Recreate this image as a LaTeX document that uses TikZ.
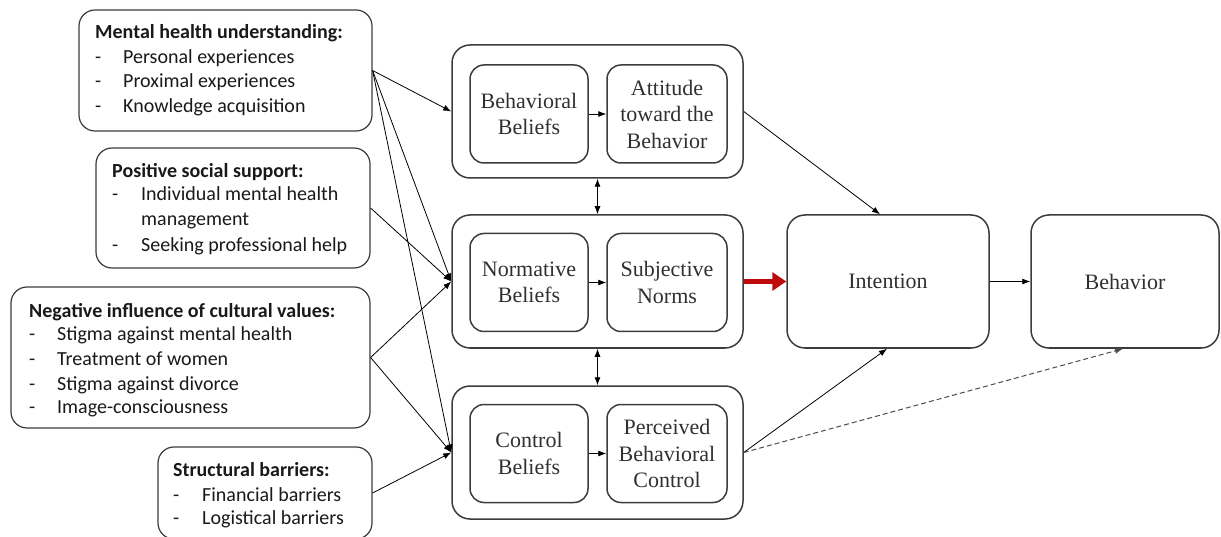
\documentclass[tikz,border=0pt]{standalone}
\usepackage{fontspec}
\setmainfont{Liberation Serif}
\newfontfamily\lf{Carlito}
\usetikzlibrary{arrows.meta}
\definecolor{bord}{HTML}{3C3C3C}
\definecolor{redarr}{HTML}{BE0A0A}
\definecolor{txtg}{HTML}{303030}
\begin{document}
\begin{tikzpicture}[x=1pt,y=-1pt,
  lbox/.style={draw=bord, line width=1.2pt, rounded corners=16pt, inner sep=0pt},
  gbox/.style={draw=bord, line width=1.5pt, rounded corners=18pt, inner sep=0pt, minimum width=291pt, minimum height=133pt},
  ibox/.style={draw=bord, line width=1.5pt, rounded corners=14pt, inner sep=0pt, minimum height=98pt, align=center, text=txtg,
     font=\fontsize{22}{26.5}\selectfont},
  bigbox/.style={draw=bord, line width=1.5pt, rounded corners=18pt, inner sep=0pt, minimum height=133pt, text=txtg,
     font=\fontsize{22}{26.5}\selectfont},
  ltxt/.style={anchor=base west, inner sep=0pt, font=\lf\fontsize{20}{24.5}\selectfont, text=black!90},
  conn/.style={draw=black, line width=0.8pt, -{Latex[length=8pt,width=6pt]}},
  dconn/.style={draw=black!70, line width=1pt, dashed, dash pattern=on 5pt off 3pt, -{Latex[length=8pt,width=6pt]}},
  dbl/.style={draw=black, line width=0.9pt, {Latex[length=8pt,width=6pt]}-{Latex[length=8pt,width=6pt]}},
  redconn/.style={draw=redarr, line width=5pt, -{Triangle[length=14pt,width=18pt]}}]
\useasboundingbox (0,0) rectangle (1221,537);

% left boxes
\node[lbox, minimum width=293pt, minimum height=121pt] (m1) at (225.5,70.5) {};
\node[lbox, minimum width=274pt, minimum height=120pt] (m2) at (233,208) {};
\node[lbox, minimum width=359pt, minimum height=141pt] (m3) at (190.5,357.5) {};
\node[lbox, minimum width=214pt, minimum height=92pt] (m4) at (265,493) {};

% box 1 text
\node[ltxt] (m1h) at (95,39) {\textbf{Mental health understanding:}};
\node[ltxt] (m1d1) at (95,64) {-};
\node[ltxt] (m1a) at (123,64) {Personal experiences};
\node[ltxt] (m1d2) at (95,88) {-};
\node[ltxt] (m1b) at (123,88) {Proximal experiences};
\node[ltxt] (m1d3) at (95,113) {-};
\node[ltxt] (m1c) at (123,113) {Knowledge acquisition};

% box 2 text
\node[ltxt] (m2h) at (112,178) {\textbf{Positive social support:}};
\node[ltxt] (m2d1) at (112,201) {-};
\node[ltxt] (m2a) at (141,201) {Individual mental health};
\node[ltxt] (m2a2) at (141,226) {management};
\node[ltxt] (m2d2) at (112,252) {-};
\node[ltxt] (m2b) at (141,252) {Seeking professional help};

% box 3 text
\node[ltxt] (m3h) at (29,318) {\textbf{Negative influence of cultural values:}};
\node[ltxt] (m3d1) at (29,341) {-};
\node[ltxt] (m3a) at (57,341) {Stigma against mental health};
\node[ltxt] (m3d2) at (29,365) {-};
\node[ltxt] (m3b) at (57,365) {Treatment of women};
\node[ltxt] (m3d3) at (29,390) {-};
\node[ltxt] (m3c) at (57,390) {Stigma against divorce};
\node[ltxt] (m3d4) at (29,413) {-};
\node[ltxt] (m3e) at (57,413) {Image-consciousness};

% box 4 text
\node[ltxt] (m4h) at (173,476) {\textbf{Structural barriers:}};
\node[ltxt] (m4d1) at (173,501) {-};
\node[ltxt] (m4a) at (202,501) {Financial barriers};
\node[ltxt] (m4d2) at (173,524) {-};
\node[ltxt] (m4b) at (202,524) {Logistical barriers};

% groups
\node[gbox] (g1) at (597.5,111.5) {};
\node[gbox] (g2) at (597.5,281.5) {};
\node[gbox] (g3) at (597.5,452.5) {};

\node[ibox, minimum width=118pt] (bb) at (529,114) {Behavioral\\Beliefs};
\node[ibox, minimum width=120pt] (att) at (667,114) {Attitude\\toward the\\Behavior};
\node[ibox, minimum width=118pt] (nb) at (529,282.5) {Normative\\Beliefs};
\node[ibox, minimum width=120pt] (sn) at (667,282.5) {Subjective\\Norms};
\node[ibox, minimum width=118pt] (cb) at (529,453.5) {Control\\Beliefs};
\node[ibox, minimum width=120pt] (pbc) at (667,453.5) {Perceived\\Behavioral\\Control};

\node[bigbox, minimum width=202pt] (int) at (888,281.5) {Intention};
\node[bigbox, minimum width=188pt] (beh) at (1125,281.5) {Behavior};

% inner arrows
\draw[conn] (bb.east) -- (att.west);
\draw[conn] (nb.east) -- (sn.west);
\draw[conn] (cb.east) -- (pbc.west);

% double arrows
\draw[dbl] (g1.south) -- (g2.north);
\draw[dbl] (g2.south) -- (g3.north);

% left connectors
\draw[conn] (m1.east) -- (g1.west);
\draw[conn] (m1.east) -- (g2.west);
\draw[conn] (m1.east) -- (g3.west);
\draw[conn] (m2.east) -- (g2.west);
\draw[conn] (m3.east) -- (g2.west);
\draw[conn] (m3.east) -- (g3.west);
\draw[conn] (m4.east) -- (g3.west);

% right connectors
\draw[conn] (g1.east) -- ([xshift=-8pt]int.north);
\draw[redconn] (g2.east) -- (int.west);
\draw[conn] (g3.east) -- ([xshift=-1pt]int.south);
\draw[dconn] (g3.east) -- ([xshift=-2pt]beh.south);
\draw[conn] (int.east) -- (beh.west);
\end{tikzpicture}
\end{document}
